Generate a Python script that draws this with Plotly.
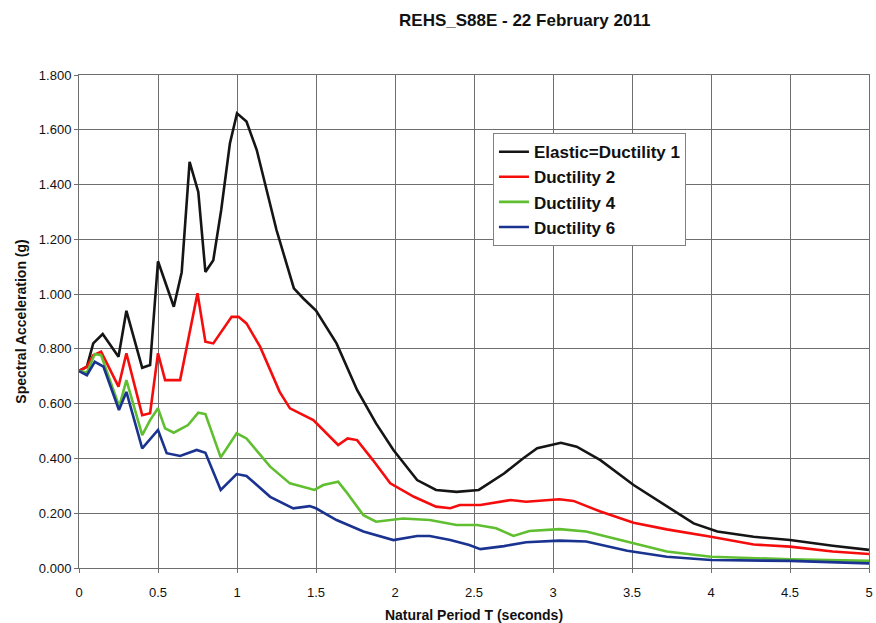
import plotly.graph_objects as go

title_text = "REHS_S88E - 22 February 2011"
x_title = "Natural Period T (seconds)"
y_title = "Spectral Acceleration (g)"
series_names = ["Elastic=Ductility 1", "Ductility 2", "Ductility 4", "Ductility 6"]
series_colors = ["#151515", "#f50d0d", "#5fbf30", "#1a3390"]

x_d1 = [0, 0.05, 0.09, 0.15, 0.25, 0.30, 0.40, 0.45, 0.50, 0.60, 0.65, 0.70, 0.755, 0.80, 0.85, 0.90,
        0.955, 1.0, 1.06, 1.125, 1.25, 1.36, 1.42, 1.5, 1.63, 1.76, 1.88, 1.99, 2.14, 2.26, 2.39, 2.53,
        2.69, 2.81, 2.90, 2.98, 3.05, 3.15, 3.30, 3.51, 3.72, 3.89, 4.04, 4.27, 4.5, 4.77, 5.0]
y_d1 = [0.719, 0.735, 0.82, 0.854, 0.771, 0.939, 0.731, 0.741, 1.12, 0.954, 1.08, 1.483, 1.373, 1.081,
        1.124, 1.307, 1.55, 1.66, 1.63, 1.526, 1.234, 1.021, 0.984, 0.94, 0.82, 0.65, 0.528, 0.431, 0.321,
        0.285, 0.278, 0.285, 0.345, 0.40, 0.437, 0.449, 0.457, 0.443, 0.394, 0.303, 0.224, 0.163, 0.133,
        0.114, 0.102, 0.081, 0.066]

x_d2 = [0, 0.05, 0.09, 0.14, 0.25, 0.30, 0.40, 0.45, 0.50, 0.545, 0.64, 0.75, 0.80, 0.85, 0.966, 1.01,
        1.06, 1.146, 1.27, 1.335, 1.483, 1.64, 1.70, 1.76, 1.86, 1.97, 2.12, 2.26, 2.35, 2.41, 2.54, 2.73,
        2.83, 2.96, 3.04, 3.13, 3.30, 3.51, 3.72, 4.0, 4.27, 4.5, 4.77, 5.0]
y_d2 = [0.719, 0.735, 0.777, 0.79, 0.662, 0.784, 0.558, 0.565, 0.784, 0.686, 0.686, 1.003, 0.826, 0.82,
        0.917, 0.917, 0.893, 0.808, 0.643, 0.583, 0.54, 0.449, 0.473, 0.467, 0.394, 0.309, 0.26, 0.224,
        0.218, 0.23, 0.23, 0.248, 0.242, 0.248, 0.251, 0.245, 0.206, 0.165, 0.141, 0.114, 0.086, 0.078,
        0.06, 0.051]

x_d4 = [0, 0.05, 0.10, 0.14, 0.255, 0.30, 0.40, 0.45, 0.50, 0.545, 0.60, 0.69, 0.755, 0.80, 0.897, 0.998,
        1.06, 1.21, 1.335, 1.49, 1.546, 1.64, 1.69, 1.80, 1.88, 2.05, 2.22, 2.39, 2.52, 2.64, 2.75, 2.85,
        3.04, 3.21, 3.51, 3.72, 4.0, 4.5, 5.0]
y_d4 = [0.719, 0.714, 0.781, 0.777, 0.589, 0.686, 0.485, 0.54, 0.583, 0.51, 0.494, 0.522, 0.567, 0.562,
        0.404, 0.492, 0.473, 0.37, 0.309, 0.285, 0.303, 0.315, 0.279, 0.193, 0.169, 0.181, 0.175, 0.157,
        0.157, 0.145, 0.117, 0.135, 0.142, 0.133, 0.09, 0.06, 0.041, 0.032, 0.026]

x_d6 = [0, 0.05, 0.10, 0.155, 0.253, 0.30, 0.40, 0.50, 0.555, 0.64, 0.745, 0.80, 0.897, 0.998, 1.06, 1.21,
        1.356, 1.46, 1.5, 1.63, 1.80, 1.99, 2.14, 2.22, 2.35, 2.47, 2.54, 2.69, 2.83, 3.04, 3.21, 3.47,
        3.72, 4.0, 4.5, 5.0]
y_d6 = [0.719, 0.704, 0.753, 0.735, 0.577, 0.643, 0.437, 0.504, 0.419, 0.409, 0.431, 0.421, 0.285, 0.343,
        0.336, 0.26, 0.218, 0.226, 0.218, 0.175, 0.133, 0.102, 0.117, 0.117, 0.102, 0.084, 0.069, 0.080,
        0.094, 0.1, 0.097, 0.063, 0.041, 0.029, 0.026, 0.017]

x_ticks = [0, 0.5, 1, 1.5, 2, 2.5, 3, 3.5, 4, 4.5, 5]
x_tick_labels = ["0", "0.5", "1", "1.5", "2", "2.5", "3", "3.5", "4", "4.5", "5"]
y_ticks = [0, 0.2, 0.4, 0.6, 0.8, 1.0, 1.2, 1.4, 1.6, 1.8]
y_tick_labels = ["0.000", "0.200", "0.400", "0.600", "0.800", "1.000", "1.200", "1.400", "1.600", "1.800"]

xs = [x_d1, x_d2, x_d4, x_d6]
ys = [y_d1, y_d2, y_d4, y_d6]

fig = go.Figure()
for i, (name, color, xv, yv) in enumerate(zip(series_names, series_colors, xs, ys)):
    fig.add_trace(go.Scatter(x=xv, y=yv, mode="lines", name=name, legendgroup="g%d" % i,
                             line=dict(color=color, width=2.6)))

font_family = "Liberation Sans, Arial, sans-serif"
fig.update_layout(
    width=876, height=623,
    margin=dict(l=79, r=7, t=75, b=55),
    paper_bgcolor="white", plot_bgcolor="white",
    font=dict(family=font_family, color="#111111"),
    title=dict(text="<b>" + title_text + "</b>", x=0.599, xanchor="center",
               y=0.968, yanchor="middle", font=dict(size=17, family=font_family)),
    showlegend=True,
    legend=dict(x=0.524, y=0.882, xanchor="left", yanchor="top",
                bgcolor="white", bordercolor="#808080", borderwidth=1,
                font=dict(size=17, family=font_family, weight="bold"),
                traceorder="grouped", tracegroupgap=0),
)
fig.update_xaxes(
    range=[0, 5], tickvals=x_ticks, ticktext=x_tick_labels, automargin=False,
    showgrid=True, gridcolor="#6e6e6e", gridwidth=1,
    showline=True, linecolor="#6e6e6e", linewidth=1, mirror=True,
    ticks="outside", ticklen=4, tickcolor="#6e6e6e",
    tickfont=dict(size=13), zeroline=False, ticklabelstandoff=8,
    title=dict(text="<b>" + x_title + "</b>", font=dict(size=14), standoff=13),
)
fig.update_yaxes(
    range=[0, 1.8], tickvals=y_ticks, ticktext=y_tick_labels, automargin=False,
    showgrid=True, gridcolor="#6e6e6e", gridwidth=1,
    showline=True, linecolor="#6e6e6e", linewidth=1, mirror=True,
    ticks="outside", ticklen=4, tickcolor="#6e6e6e",
    tickfont=dict(size=13), zeroline=False,
    title=dict(text="<b>" + y_title + "</b>", font=dict(size=14), standoff=8),
)

fig.write_html("out.html")
